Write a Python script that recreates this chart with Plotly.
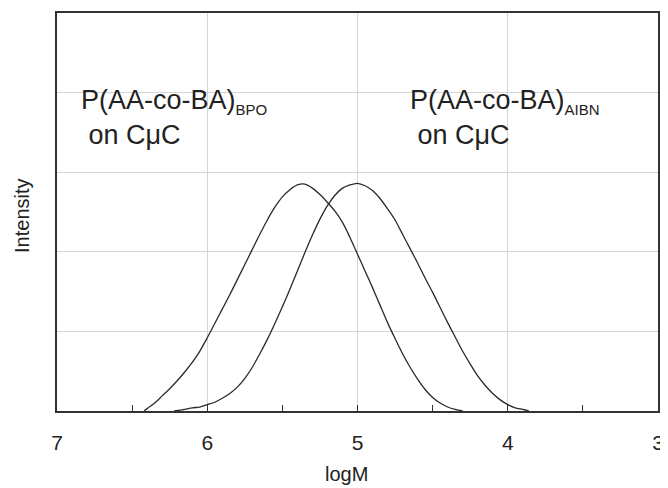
import plotly.graph_objects as go

# BPO curve (logM, intensity)
bpo_logm = [6.42, 6.40, 6.35, 6.30, 6.25, 6.20, 6.15, 6.10, 6.05, 6.00, 5.95, 5.90, 5.85, 5.80,
            5.75, 5.70, 5.65, 5.60, 5.55, 5.50, 5.45, 5.40, 5.35, 5.30, 5.25, 5.20, 5.15, 5.10,
            5.05, 5.00, 4.95, 4.90, 4.85, 4.80, 4.75, 4.70, 4.65, 4.60, 4.55, 4.50, 4.45, 4.40,
            4.35, 4.30]
bpo_int = [0.0, 0.03, 0.10, 0.19, 0.28, 0.38, 0.49, 0.61, 0.75, 0.92, 1.10, 1.28, 1.46, 1.65,
           1.84, 2.03, 2.22, 2.40, 2.56, 2.69, 2.78, 2.84, 2.85, 2.80, 2.72, 2.62, 2.51, 2.37,
           2.18, 1.97, 1.76, 1.55, 1.33, 1.11, 0.91, 0.72, 0.55, 0.40, 0.27, 0.17, 0.10, 0.05,
           0.02, 0.0]

# AIBN curve
aibn_logm = [6.22, 6.15, 6.10, 6.05, 6.00, 5.95, 5.90, 5.85, 5.80, 5.75, 5.70, 5.65, 5.60, 5.55,
             5.50, 5.45, 5.40, 5.35, 5.30, 5.25, 5.20, 5.15, 5.10, 5.05, 5.00, 4.95, 4.90, 4.85,
             4.80, 4.75, 4.70, 4.65, 4.60, 4.55, 4.50, 4.45, 4.40, 4.35, 4.30, 4.25, 4.20, 4.15,
             4.10, 4.05, 4.00, 3.95, 3.90, 3.86]
aibn_int = [0.0, 0.02, 0.04, 0.05, 0.08, 0.11, 0.16, 0.22, 0.30, 0.41, 0.55, 0.72, 0.90, 1.10,
            1.31, 1.53, 1.76, 1.99, 2.21, 2.41, 2.58, 2.71, 2.80, 2.84, 2.86, 2.83, 2.77, 2.67,
            2.54, 2.40, 2.22, 2.04, 1.86, 1.67, 1.49, 1.30, 1.11, 0.93, 0.75, 0.59, 0.44, 0.32,
            0.22, 0.14, 0.08, 0.04, 0.02, 0.0]

x_ticks = [7, 6, 5, 4, 3]
x_ticklabels = ["7", "6", "5", "4", "3"]

FONT = "Liberation Sans, Arial, sans-serif"
LINE = "#2a2a2a"
TXT = "#222"

fig = go.Figure()
for xs, ys in [(bpo_logm, bpo_int), (aibn_logm, aibn_int)]:
    fig.add_trace(go.Scatter(x=xs, y=ys, mode="lines",
                             line=dict(color=LINE, width=1.3, shape="spline", smoothing=0.8),
                             showlegend=False, hoverinfo="skip"))

# page body has an 8px margin: figure is 660x480 so the plot area lands at x 57-658, y 11-411
fig.update_layout(
    width=660, height=480,
    margin=dict(l=49, r=10, t=3, b=77),
    paper_bgcolor="white", plot_bgcolor="white",
    font=dict(family=FONT, color=TXT),
    xaxis=dict(range=[7, 3], tickvals=x_ticks, ticktext=x_ticklabels,
               tickfont=dict(size=21, family=FONT, color=TXT),
               ticks="inside", ticklen=6, tickcolor="#333", tickwidth=1.3,
               ticklabelstandoff=12,
               showgrid=True, gridcolor="#d4d4d4", gridwidth=1,
               showline=True, linecolor="#333", linewidth=2, mirror=True,
               zeroline=False,
               minor=dict(dtick=0.5, tick0=3, ticks="inside", ticklen=6, tickcolor="#333",
                          tickwidth=1.3, showgrid=False)),
    yaxis=dict(range=[0, 5], dtick=1, showticklabels=False, ticks="",
               showgrid=True, gridcolor="#d4d4d4", gridwidth=1,
               showline=True, linecolor="#333", linewidth=2, mirror=True,
               zeroline=False),
)

def px(x):
    return (x - 57) / 601

def py(y):
    return (411 - y) / 400

sub = '<sub><span style="font-size:15px">{}</span></sub>'
fig.add_annotation(xref="paper", yref="paper", x=px(79), y=py(81), xanchor="left", yanchor="top",
                   text="P(AA-co-BA)" + sub.format("BPO") + "<br> on CμC", showarrow=False,
                   align="left", font=dict(size=27, family=FONT, color=TXT))
fig.add_annotation(xref="paper", yref="paper", x=px(408), y=py(81), xanchor="left", yanchor="top",
                   text="P(AA-co-BA)" + sub.format("AIBN") + "<br> on CμC", showarrow=False,
                   align="left", font=dict(size=27, family=FONT, color=TXT))
fig.add_annotation(xref="paper", yref="paper", x=px(346), y=py(474), xanchor="center", yanchor="middle",
                   text="logM", showarrow=False, font=dict(size=20, family=FONT, color=TXT))
fig.add_annotation(xref="paper", yref="paper", x=px(22), y=py(215), xanchor="center", yanchor="middle",
                   text="Intensity", textangle=-90, showarrow=False,
                   font=dict(size=20, family=FONT, color=TXT))

fig.write_html("out.html")
